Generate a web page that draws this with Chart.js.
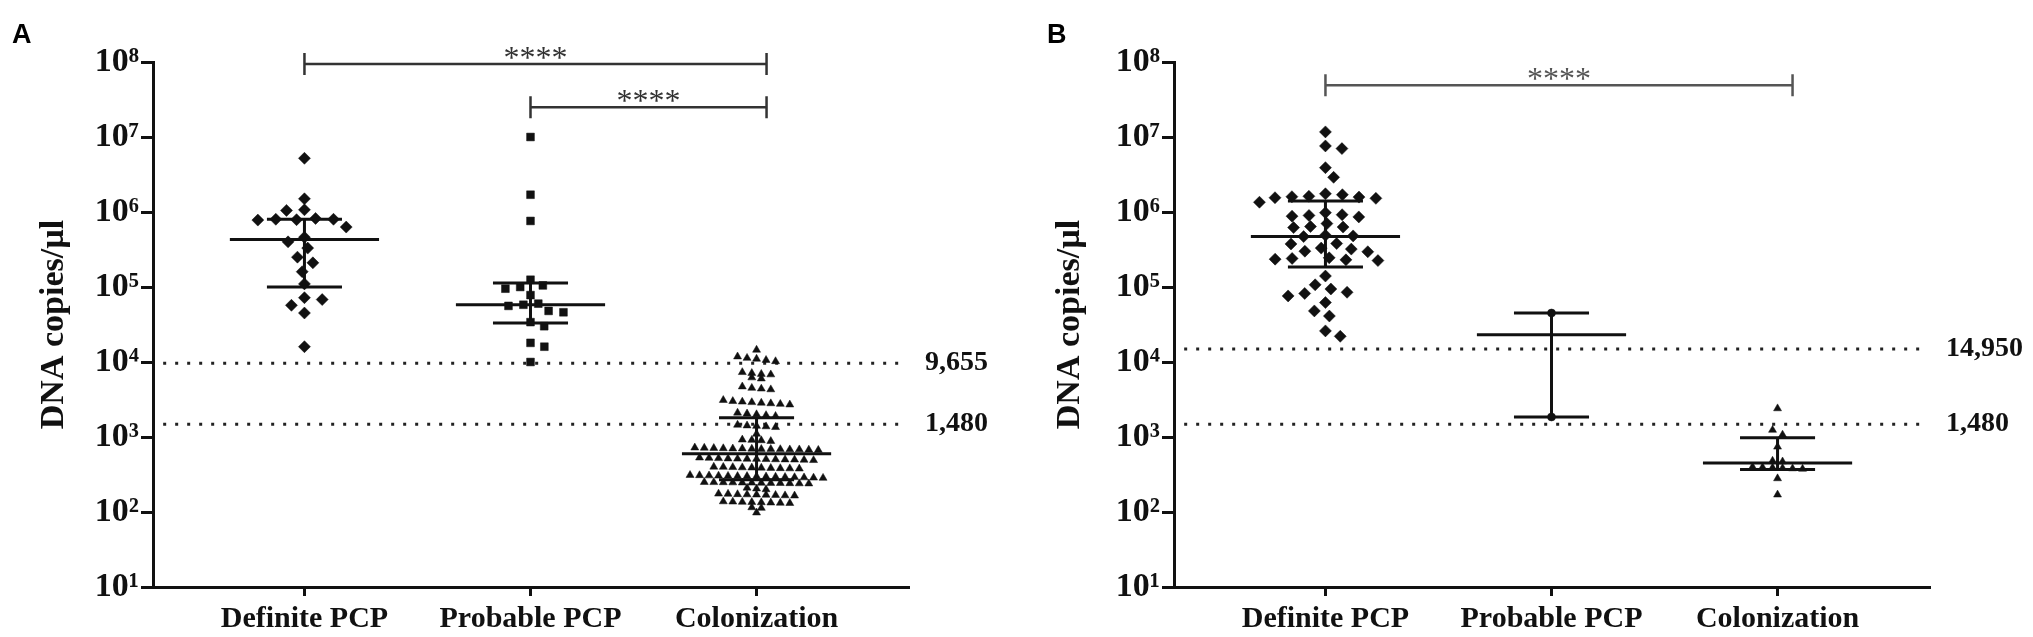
<!DOCTYPE html>
<html><head><meta charset="utf-8">
<script src="https://cdn.jsdelivr.net/npm/chart.js@4.4.1/dist/chart.umd.min.js"></script>
<style>
html,body{margin:0;padding:0;background:#fff;}
#wrap{position:relative;width:2033px;height:637px;overflow:hidden;background:#fff;}
canvas{position:absolute;top:0;}
</style></head><body>
<div id="wrap">
<canvas id="cA" width="1016" height="637" style="left:0px"></canvas>
<canvas id="cB" width="1017" height="637" style="left:1016px"></canvas>
</div>
<script>
// ---------------- DATA ----------------
const categories = ['Definite PCP', 'Probable PCP', 'Colonization'];
const yTickValues = [1e1, 1e2, 1e3, 1e4, 1e5, 1e6, 1e7, 1e8];
const yAxisTitle = 'DNA copies/µl';
const sigLabel = '****';

// Panel A
const aDefinite = [5.2e6, 1.5e6, 1.07e6, 1.05e6, 8.2e5, 8.0e5, 8.0e5, 7.9e5, 7.8e5, 6.3e5, 4.6e5, 4.0e5,
  3.3e5, 2.5e5, 2.1e5, 1.6e5, 1.1e5, 7.2e4, 6.8e4, 5.7e4, 4.5e4, 1.6e4];
const aProbable = [1e7, 1.7e6, 7.6e5, 1.25e5, 1.05e5, 1.0e5, 9.5e4, 7.8e4, 6.0e4, 5.8e4, 5.6e4, 4.8e4,
  4.6e4, 3.4e4, 3.0e4, 1.8e4, 1.6e4, 1.0e4];
const aColonization = [14500,
  11800, 11300, 11000, 10600, 10200,
  7300, 7100, 6900, 6800,
  6200, 6000,
  4700, 4500, 4400, 4300,
  3100, 3000, 2950, 2900, 2850, 2800, 2750, 2700,
  2100, 2050, 2000, 1950, 1900,
  1450, 1420, 1400, 1380, 1350,
  1100,
  920, 910, 900, 880,
  720, 715, 710, 705, 700, 700, 695, 690, 690, 685, 680, 680, 675, 670,
  530, 525, 520, 515, 512, 510, 508, 505, 502, 500, 498, 495, 490,
  400, 398, 395, 392, 390, 388, 385, 382, 380, 378,
  310, 308, 306, 304, 302, 300, 300, 298, 296, 294, 292, 290, 288, 286, 284,
  250, 249, 248, 247, 246, 245, 244, 243, 242, 241, 240, 239,
  210, 205, 200,
  175, 174, 172, 171, 170, 169, 168, 166, 165,
  138, 137, 136, 135, 134, 133, 132, 131,
  115, 113,
  98];
const aMedian = [4.3e5, 5.8e4, 600];
const aQ1 = [1.0e5, 3.3e4, 270];
const aQ3 = [8.0e5, 1.13e5, 1800];
const aThresholds = [9655, 1480];
const aBrackets = [[0, 2, 9.4e7], [1, 2, 2.5e7]];

// Panel B
const bDefinite = [1.17e7, 7.6e6, 7.0e6, 3.9e6, 2.9e6, 1.75e6, 1.7e6, 1.62e6, 1.6e6, 1.58e6, 1.55e6, 1.52e6,
  1.35e6, 9.8e5, 9.2e5, 9.0e5, 8.8e5, 8.6e5, 7.0e5, 6.4e5, 6.3e5, 6.2e5, 4.9e5, 4.8e5, 4.7e5,
  3.8e5, 3.75e5, 3.3e5, 3.2e5, 3.0e5, 2.95e5, 2.45e5, 2.4e5, 2.35e5, 2.3e5, 2.25e5, 1.4e5, 1.07e5,
  9.4e4, 8.5e4, 8.2e4, 7.6e4, 6.2e4, 4.8e4, 4.1e4, 2.6e4, 2.2e4];
const bProbable = [45000, 1850];
const bColonization = [2400, 1240, 1070, 740, 480, 470, 400, 395, 390, 385, 380, 375, 280, 170];
const bMedian = [4.7e5, 2.3e4, 450];
const bQ1 = [1.85e5, 1.85e3, 370];
const bQ3 = [1.4e6, 4.5e4, 980];
const bThresholds = [14950, 1480];
const bBrackets = [[0, 2, 4.9e7]];

// ---------------- LAYOUT HELPERS ----------------
const X_MIN = -0.67, X_MAX = 2.67;
const PX_PER_CAT = 226;
const PX_PER_DEC = 75;
const INK = '#111';
const SERIF = '"Liberation Serif", "Times New Roman", serif';

// row-based dot plot layout (dense groups)
function rowSwarm(values, cat, stepPx, binDec) {
  const s = [...values].sort((a, b) => b - a);
  const pts = [];
  let i = 0;
  while (i < s.length) {
    const start = Math.log10(s[i]);
    let j = i;
    while (j < s.length && start - Math.log10(s[j]) < binDec) j++;
    const n = j - i;
    for (let k = 0; k < n; k++) {
      pts.push({ x: cat + (k - (n - 1) / 2) * stepPx / PX_PER_CAT, y: s[i + k] });
    }
    i = j;
  }
  return pts;
}

// collision-based beeswarm layout (sparser groups)
function beeSwarm(values, cat, dx, dy) {
  const s = [...values].sort((a, b) => b - a);
  const placed = [];
  s.forEach((v, idx) => {
    const py = Math.log10(v) * PX_PER_DEC;
    const forb = [];
    placed.forEach(p => {
      const d = Math.abs(p.py - py);
      if (d < dy) {
        const w = dx * Math.sqrt(1 - (d / dy) * (d / dy));
        forb.push([p.px - w, p.px + w]);
      }
    });
    const cands = [0];
    forb.forEach(([a, b]) => cands.push(a, b));
    const sign = idx % 2 ? -1 : 1;
    cands.sort((a, b) => (Math.abs(a) - Math.abs(b)) || (sign * (b - a)));
    let px = 0;
    for (const c of cands) {
      if (forb.every(([a, b]) => c <= a + 1e-6 || c >= b - 1e-6)) { px = c; break; }
    }
    placed.push({ px, py, v });
  });
  return placed.map(p => ({ x: cat + p.px / PX_PER_CAT, y: p.v }));
}

const SUP = { '0': '⁰', '1': '¹', '2': '²', '3': '³', '4': '⁴', '5': '⁵', '6': '⁶', '7': '⁷', '8': '⁸', '9': '⁹' };
const fmtTick = v => '10' + String(Math.round(Math.log10(v))).split('').map(c => SUP[c]).join('');

function buildDatasets(groups, styles, med, q1, q3, thresholds) {
  const ds = [];
  groups.forEach((vals, i) => {
    const st = styles[i];
    ds.push({
      type: 'line', order: 0, label: 'bars' + i,
      data: [
        { x: i - 0.33, y: med[i] }, { x: i + 0.33, y: med[i] }, { x: i, y: null },
        { x: i - 0.166, y: q3[i] }, { x: i + 0.166, y: q3[i] }, { x: i, y: null },
        { x: i - 0.166, y: q1[i] }, { x: i + 0.166, y: q1[i] }, { x: i, y: null },
        { x: i, y: q1[i] }, { x: i, y: q3[i] }
      ],
      borderColor: INK, borderWidth: 3, pointRadius: 0, spanGaps: false, fill: false,
      borderCapStyle: 'butt', tension: 0
    });
    const pts = st.layout === 'rows' ? rowSwarm(vals, i, st.step, st.bin) : beeSwarm(vals, i, st.dx, st.dy);
    ds.push({
      type: 'scatter', order: 1, label: categories[i],
      data: pts,
      pointStyle: st.style, pointRadius: st.r, pointHoverRadius: st.r,
      backgroundColor: INK, borderColor: INK, borderWidth: 0.5
    });
  });
  thresholds.forEach(t => {
    ds.push({
      type: 'line', order: 2, label: 'thr' + t,
      data: [{ x: X_MIN + 0.045, y: t }, { x: X_MAX - 0.035, y: t }],
      borderColor: '#222', borderWidth: 3, borderDash: [3, 9], borderCapStyle: 'butt',
      pointRadius: 0, fill: false
    });
  });
  return ds;
}

const annot = {
  id: 'annot',
  afterDraw(chart, args, o) {
    const { ctx, chartArea } = chart;
    const xs = chart.scales.x, ys = chart.scales.y;
    ctx.save();
    ctx.fillStyle = '#000';
    ctx.textAlign = 'left';
    ctx.textBaseline = 'alphabetic';
    ctx.font = 'bold 27px "Liberation Sans", Arial, sans-serif';
    ctx.fillText(o.letter, o.letterX, 43);

    ctx.fillStyle = INK;
    ctx.font = 'bold 28px ' + SERIF;
    ctx.textBaseline = 'middle';
    o.thresholds.forEach(v => {
      ctx.fillText(v.toLocaleString('en-US'), chartArea.right + 17, ys.getPixelForValue(v));
    });

    o.brackets.forEach(([f, t, lvl]) => {
      const x1 = xs.getPixelForValue(f), x2 = xs.getPixelForValue(t) + o.endPad, y = ys.getPixelForValue(lvl);
      ctx.strokeStyle = o.bracketColor;
      ctx.lineWidth = 2.5;
      ctx.beginPath();
      ctx.moveTo(x1, y - 11); ctx.lineTo(x1, y + 11);
      ctx.moveTo(x1, y); ctx.lineTo(x2, y);
      ctx.moveTo(x2, y - 11); ctx.lineTo(x2, y + 11);
      ctx.stroke();
      ctx.font = '32px ' + SERIF;
      ctx.fillStyle = o.bracketColor;
      ctx.textAlign = 'center';
      ctx.textBaseline = 'alphabetic';
      const m = ctx.measureText(sigLabel);
      const cy = y - 11;
      ctx.fillText(sigLabel, (x1 + x2) / 2, cy + (m.actualBoundingBoxAscent - m.actualBoundingBoxDescent) / 2);
    });
    ctx.restore();
  }
};

function makeChart(id, groups, styles, med, q1, q3, thresholds, brackets, yWidth, padRight, letter, letterX, bracketColor, endPad) {
  return new Chart(document.getElementById(id), {
    data: { datasets: buildDatasets(groups, styles, med, q1, q3, thresholds) },
    plugins: [annot],
    options: {
      responsive: false, animation: false, devicePixelRatio: 1,
      layout: { padding: { left: 0, right: padRight, top: 62, bottom: 0 } },
      plugins: {
        legend: { display: false }, tooltip: { enabled: false },
        annot: { thresholds, brackets, letter, letterX, bracketColor, endPad }
      },
      scales: {
        x: {
          type: 'linear', min: X_MIN, max: X_MAX,
          afterBuildTicks: s => { s.ticks = categories.map((c, i) => ({ value: i })); },
          afterFit: s => { s.height = 50; },
          ticks: {
            callback: v => categories[v], autoSkip: false, maxRotation: 0, padding: 5,
            font: { family: SERIF, size: 30, weight: 'bold' }, color: INK
          },
          grid: { drawOnChartArea: false, drawTicks: true, tickLength: 9, color: INK, lineWidth: 3 },
          border: { display: true, color: INK, width: 3 }
        },
        y: {
          type: 'logarithmic', min: 10, max: 1e8,
          afterBuildTicks: s => { s.ticks = yTickValues.map(v => ({ value: v })); },
          afterFit: s => { s.width = yWidth; },
          ticks: {
            callback: v => fmtTick(v), padding: 2,
            font: { family: SERIF, size: 34, weight: 'bold' }, color: INK
          },
          grid: { drawOnChartArea: false, drawTicks: true, tickLength: 12, color: INK, lineWidth: 3 },
          border: { display: true, color: INK, width: 3 },
          title: {
            display: true, text: yAxisTitle, color: INK,
            font: { family: SERIF, size: 34, weight: 'bold' }, padding: { top: 34, bottom: 0 }
          }
        }
      }
    }
  });
}

const stylesA = [
  { style: 'rectRot', r: 6, layout: 'bee', dx: 18, dy: 11 },
  { style: 'rect', r: 5.5, layout: 'bee', dx: 15, dy: 10 },
  { style: 'triangle', r: 4.6, layout: 'rows', step: 9.5, bin: 0.065 }
];
const stylesB = [
  { style: 'rectRot', r: 6, layout: 'bee', dx: 17, dy: 11 },
  { style: 'circle', r: 4, layout: 'rows', step: 16, bin: 0.065 },
  { style: 'triangle', r: 4.6, layout: 'rows', step: 10, bin: 0.065 }
];

makeChart('cA', [aDefinite, aProbable, aColonization], stylesA, aMedian, aQ1, aQ3, aThresholds, aBrackets,
  153, 108, 'A', 12, '#333', 10);
makeChart('cB', [bDefinite, bProbable, bColonization], stylesB, bMedian, bQ1, bQ3, bThresholds, bBrackets,
  158, 104, 'B', 31, '#555', 15);
</script>
</body></html>
